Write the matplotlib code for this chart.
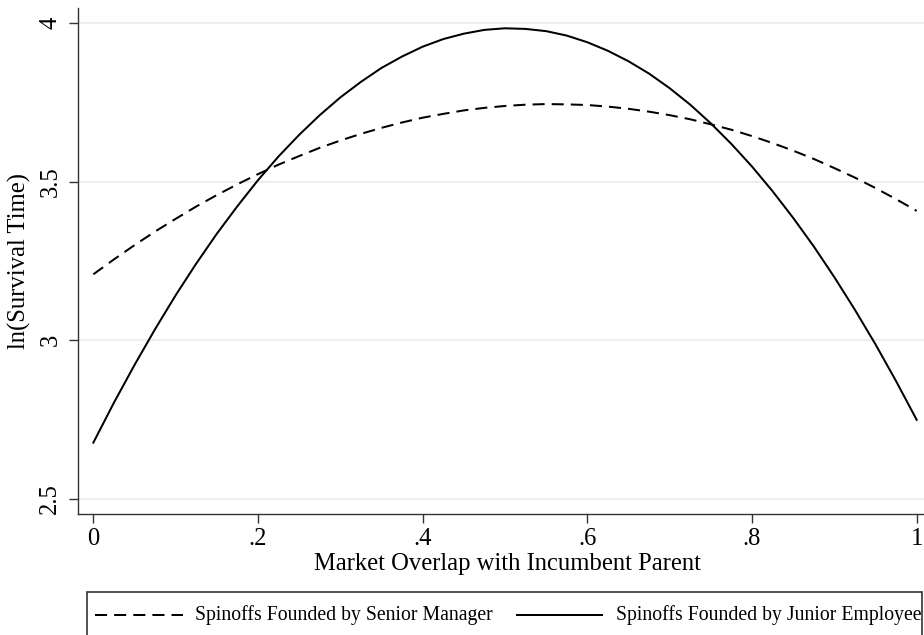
import matplotlib
matplotlib.use("Agg")
import matplotlib.pyplot as plt
from matplotlib.lines import Line2D
from matplotlib.patches import Rectangle

# predicted ln(survival time) across market overlap
overlap = [0.000, 0.025, 0.050, 0.075, 0.100, 0.125, 0.150, 0.175, 0.200,
           0.225, 0.250, 0.275, 0.300, 0.325, 0.350, 0.375, 0.400, 0.425,
           0.450, 0.475, 0.500, 0.525, 0.550, 0.575, 0.600, 0.625, 0.650,
           0.675, 0.700, 0.725, 0.750, 0.775, 0.800, 0.825, 0.850, 0.875,
           0.900, 0.925, 0.950, 0.975, 1.000]
senior_manager = [3.208, 3.255, 3.300, 3.343, 3.383, 3.422, 3.458, 3.492, 3.524,
                  3.554, 3.581, 3.607, 3.630, 3.651, 3.670, 3.687, 3.702, 3.714,
                  3.725, 3.733, 3.739, 3.743, 3.745, 3.744, 3.742, 3.737, 3.730,
                  3.721, 3.710, 3.697, 3.681, 3.664, 3.644, 3.622, 3.598, 3.572,
                  3.543, 3.513, 3.480, 3.445, 3.408]
junior_employee = [2.677, 2.803, 2.922, 3.035, 3.142, 3.242, 3.336, 3.423, 3.505,
                   3.580, 3.648, 3.710, 3.766, 3.815, 3.859, 3.895, 3.926, 3.950,
                   3.967, 3.979, 3.984, 3.982, 3.975, 3.961, 3.940, 3.913, 3.880,
                   3.841, 3.795, 3.743, 3.684, 3.619, 3.548, 3.470, 3.386, 3.296,
                   3.199, 3.096, 2.987, 2.871, 2.749]

x_ticks = [0, 0.2, 0.4, 0.6, 0.8, 1.0]
x_ticklabels = ["0", ".2", ".4", ".6", ".8", "1"]
y_ticks = [2.5, 3.0, 3.5, 4.0]
y_ticklabels = ["2.5", "3", "3.5", "4"]
series_labels = ["Spinoffs Founded by Senior Manager",
                 "Spinoffs Founded by Junior Employee"]

plt.rcParams["font.family"] = ["Liberation Serif", "DejaVu Serif"]

W, H = 924, 635
fig = plt.figure(figsize=(W / 100, H / 100), dpi=100)
ax = fig.add_axes([77.7 / W, 1 - 514.3 / H, (W - 77.7) / W, (514.3 - 8) / H])

DASH = (6.0, 3.5)
LW = 1.45
ax.plot(overlap, senior_manager, color="black", lw=LW, ls=(0, DASH))
ax.plot(overlap, junior_employee, color="black", lw=LW, ls="-")

ax.set_xlim(-0.019, 1.0089)
ax.set_ylim(2.451, 4.048)
ax.set_xticks(x_ticks, x_ticklabels)
ax.set_yticks(y_ticks, y_ticklabels)
ax.tick_params(axis="both", direction="out", length=6.8, width=1.0,
               color="#333333", labelsize=17.7)
ax.tick_params(axis="x", pad=3)
ax.tick_params(axis="y", pad=5)
for lab in ax.get_yticklabels():
    lab.set_rotation(90)
    lab.set_va("center")

ax.grid(axis="y", color="#e4eef1", lw=1.2)
ax.set_axisbelow(True)
for side in ("top", "right"):
    ax.spines[side].set_visible(False)
for side in ("left", "bottom"):
    ax.spines[side].set_color("#333333")
    ax.spines[side].set_linewidth(1.0)

ax.set_ylabel("ln(Survival Time)", fontsize=17.7, labelpad=6)
fig.text(507 / W, 1 - 564 / H, "Market Overlap with Incumbent Parent",
         fontsize=17.7, ha="center", va="center")

# legend box along the bottom edge
box = Rectangle((86.7 / W, -0.05), (921.7 - 86.7) / W, (1 - 591.7 / H) + 0.05,
                transform=fig.transFigure, fill=False, edgecolor="#333333",
                lw=1.2)
fig.add_artist(box)
ly = 1 - 615 / H
fig.add_artist(Line2D([95 / W, 183 / W], [ly, ly], transform=fig.transFigure,
                      color="black", lw=LW, ls=(0, DASH)))
fig.add_artist(Line2D([517 / W, 602 / W], [ly, ly], transform=fig.transFigure,
                      color="black", lw=LW, ls="-"))
fig.text(195 / W, ly, series_labels[0], fontsize=14.2, ha="left", va="center")
fig.text(616 / W, ly, series_labels[1], fontsize=14.2, ha="left", va="center")

fig.savefig("out.png", dpi=100)
